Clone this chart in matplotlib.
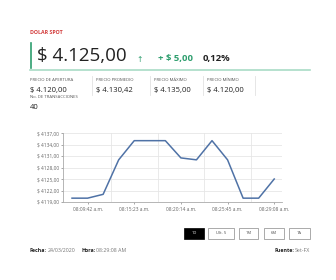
import matplotlib
matplotlib.use("Agg")
import matplotlib.pyplot as plt
from matplotlib.patches import Rectangle

plt.rcParams['font.family'] = ['Open Sans', 'DejaVu Sans']

# chart data (14 quotes of the session)
prices = [4120, 4120, 4121, 4130, 4135, 4135, 4135, 4130.5, 4130, 4135, 4130, 4120, 4120, 4125]
tick_pos = [1, 4, 7, 10, 13]
tick_labels = ['08:09:42 a.m.', '08:15:23 a.m.', '08:20:14 a.m.', '08:25:45 a.m.', '08:29:08 a.m.']
y_ticks = [4119, 4122, 4125, 4128, 4131, 4134, 4137]

stat_labels = ['PRECIO DE APERTURA', 'PRECIO PROMEDIO', 'PRECIO MÁXIMO', 'PRECIO MÍNIMO']
stat_values = ['$ 4.120,00', '$ 4.130,42', '$ 4.135,00', '$ 4.120,00']
stat_x = [30, 96, 154, 207]
buttons = ['1D', 'Ult. 5', '1M', '6M', '1A']
button_x = [(184, 204), (208, 234), (239, 258), (264, 284), (289, 310)]

W, H = 336, 280
fig = plt.figure(figsize=(W / 100, H / 100), dpi=100)
fig.patch.set_facecolor('white')

# background axes in pixel coordinates for the header / footer
bg = fig.add_axes([0, 0, 1, 1])
bg.set_xlim(0, W)
bg.set_ylim(H, 0)
bg.axis('off')

green = '#2e9e6e'
dark = '#222222'
grey = '#555555'

bg.text(30, 33, 'DOLAR SPOT', color='#d23a3a', fontsize=3.8, fontweight='bold', va='center')
bg.plot([30.5, 30.5], [43, 68], color=green, lw=1.2)
bg.text(37, 56, '$ 4.125,00', color=dark, fontsize=13.5, va='center')
bg.text(136, 59, '↑', color=green, fontsize=5.5, va='center', family=['DejaVu Sans'])
bg.text(158, 59, '+ $ 5,00', color=green, fontsize=6.8, fontweight='bold', va='center')
bg.text(203, 59, '0,12%', color=dark, fontsize=6.8, fontweight='bold', va='center')
bg.plot([30, 310], [70, 70], color='#a9dcc6', lw=1.2)

for lab, val, x in zip(stat_labels, stat_values, stat_x):
    bg.text(x, 80, lab, color=grey, fontsize=3.1, va='center')
    bg.text(x, 90.5, val, color=dark, fontsize=5.5, va='center')
for sx in [92, 150, 203, 255]:
    bg.plot([sx, sx], [76, 95], color='#e2e2e2', lw=0.6)
bg.text(30, 97.5, 'No. DE TRANSACCIONES', color=grey, fontsize=3.1, va='center')
bg.text(30, 107.5, '40', color=dark, fontsize=5.5, va='center')

# range buttons
for i, (name, (x0, x1)) in enumerate(zip(buttons, button_x)):
    active = i == 0
    bg.add_patch(Rectangle((x0, 228), x1 - x0, 11,
                           facecolor='black' if active else 'white',
                           edgecolor='black' if active else '#888888', lw=0.5))
    bg.text((x0 + x1) / 2, 233.5, name, color='white' if active else '#444444',
            fontsize=3.0, ha='center', va='center')

bg.text(30, 250, 'Fecha:', color=dark, fontsize=3.8, fontweight='bold', va='center')
bg.text(48, 250, '24/03/2020', color='#777777', fontsize=3.8, va='center')
bg.text(81, 250, 'Hora:', color=dark, fontsize=3.8, fontweight='bold', va='center')
bg.text(96, 250, '08:29:08 AM', color='#777777', fontsize=3.8, va='center')
bg.text(310, 250, 'Set-FX', color='#777777', fontsize=3.8, va='center', ha='right')
bg.text(294, 250, 'Fuente:', color=dark, fontsize=3.8, fontweight='bold', va='center', ha='right')

# price chart
ax = fig.add_axes([63 / W, (H - 202) / H, (282 - 63) / W, (202 - 133) / H])
ax.plot(range(len(prices)), prices, color='#4f72a6', lw=1.1)
ax.set_xlim(-0.58, 13.5)
ax.set_ylim(4119, 4137)
ax.set_yticks(y_ticks)
ax.set_yticklabels([f'$ {v},00' for v in y_ticks])
ax.set_xticks(tick_pos)
ax.set_xticklabels(tick_labels)
ax.tick_params(labelsize=3.5, colors='#666666', length=1.5, width=0.4, pad=1.5)
ax.tick_params(axis='x', pad=2)
for g in [2.5, 5.5, 8.5, 11.5]:
    ax.axvline(g, color='#e6e6e6', lw=0.6, zorder=0)
ax.grid(axis='y', color='#e6e6e6', lw=0.6, zorder=0)
for side in ['top', 'right']:
    ax.spines[side].set_visible(False)
for side in ['left', 'bottom']:
    ax.spines[side].set_color('#aaaaaa')
    ax.spines[side].set_linewidth(0.6)

fig.savefig('out.png', dpi=100)
